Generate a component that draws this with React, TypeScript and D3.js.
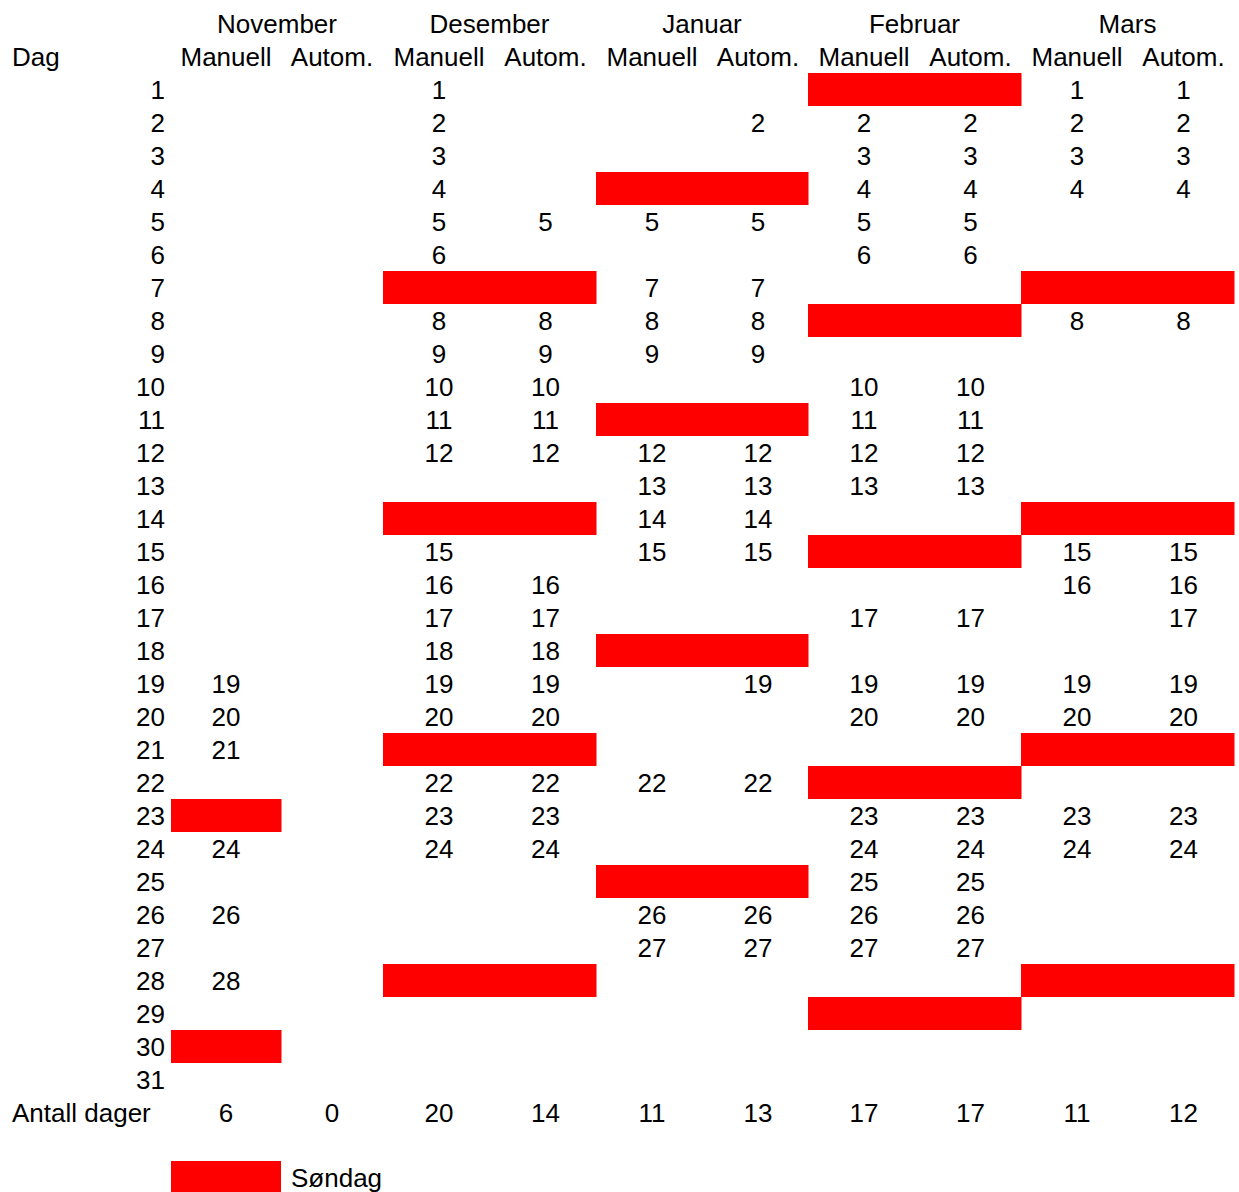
import React from "react";
import * as d3 from "d3";

// Months and registration methods
const months = ["November", "Desember", "Januar", "Februar", "Mars"];
const methods = ["Manuell", "Autom."];

// Days with registrations, per month and method
const novManuell = [19, 20, 21, 24, 26, 28];
const novAutom: number[] = [];
const desManuell = [1, 2, 3, 4, 5, 6, 8, 9, 10, 11, 12, 15, 16, 17, 18, 19, 20, 22, 23, 24];
const desAutom = [5, 8, 9, 10, 11, 12, 16, 17, 18, 19, 20, 22, 23, 24];
const janManuell = [5, 7, 8, 9, 12, 13, 14, 15, 22, 26, 27];
const janAutom = [2, 5, 7, 8, 9, 12, 13, 14, 15, 19, 22, 26, 27];
const febManuell = [2, 3, 4, 5, 6, 10, 11, 12, 13, 17, 19, 20, 23, 24, 25, 26, 27];
const febAutom = [2, 3, 4, 5, 6, 10, 11, 12, 13, 17, 19, 20, 23, 24, 25, 26, 27];
const marManuell = [1, 2, 3, 4, 8, 15, 16, 19, 20, 23, 24];
const marAutom = [1, 2, 3, 4, 8, 15, 16, 17, 19, 20, 23, 24];

// Sundays shaded in each column
const novManuellSun = [23, 30];
const novAutomSun: number[] = [];
const desSun = [7, 14, 21, 28];
const janSun = [4, 11, 18, 25];
const febSun = [1, 8, 15, 22, 29];
const marSun = [7, 14, 21, 28];

const days = d3.range(1, 32);

const columns = [
  { values: novManuell, sundays: novManuellSun },
  { values: novAutom, sundays: novAutomSun },
  { values: desManuell, sundays: desSun },
  { values: desAutom, sundays: desSun },
  { values: janManuell, sundays: janSun },
  { values: janAutom, sundays: janSun },
  { values: febManuell, sundays: febSun },
  { values: febAutom, sundays: febSun },
  { values: marManuell, sundays: marSun },
  { values: marAutom, sundays: marSun },
];

// Layout
const W = 1239;
const H = 1192;
const colEdges = [171, 281, 383, 495, 596, 708, 808, 920, 1021, 1133, 1234];
const ROW = 33;
const FIRST_ROW_TOP = 73;
const FONT = "'Liberation Sans', Arial, sans-serif";
const FS = 26;
const RED = "#ff0000";

// Row index (0 = first day row) → top of the row
const rowTop = d3.scaleLinear().domain([0, 1]).range([FIRST_ROW_TOP, FIRST_ROW_TOP + ROW]);
const dayTop = (d: number) => rowTop(d - 1);
const baseline = (top: number) => top + 26;

const colLeft = (i: number) => colEdges[i];
const colRight = (i: number) => colEdges[i + 1];
const colMid = (i: number) => (colEdges[i] + colEdges[i + 1]) / 2;

export default function App() {
  const textProps = { fontFamily: FONT, fontSize: FS, fill: "#000" };
  const headerTop = rowTop(-2);
  const subTop = rowTop(-1);
  const totalTop = rowTop(31);
  const legendTop = rowTop(33) - 1;

  return (
    <svg
      width={W}
      height={H}
      style={{ position: "absolute", left: 0, top: 0, background: "#fff" }}
    >
      <rect x={0} y={0} width={W} height={H} fill="#fff" />

      {/* Sunday shading */}
      {columns.map((c, ci) =>
        c.sundays.map((d) => (
          <rect
            key={`s-${ci}-${d}`}
            x={colLeft(ci)}
            y={dayTop(d)}
            width={colRight(ci) - colLeft(ci) + 0.5}
            height={ROW}
            fill={RED}
          />
        ))
      )}

      {/* Month headers */}
      {months.map((m, mi) => (
        <text
          key={m}
          x={(colLeft(mi * 2) + colRight(mi * 2 + 1)) / 2}
          y={baseline(headerTop)}
          textAnchor="middle"
          {...textProps}
        >
          {m}
        </text>
      ))}

      {/* Method headers */}
      <text x={12} y={baseline(subTop)} {...textProps}>
        Dag
      </text>
      {columns.map((_, ci) => (
        <text
          key={`h-${ci}`}
          x={colMid(ci)}
          y={baseline(subTop)}
          textAnchor="middle"
          {...textProps}
        >
          {methods[ci % 2]}
        </text>
      ))}

      {/* Day numbers */}
      {days.map((d) => (
        <text key={`d-${d}`} x={165} y={baseline(dayTop(d))} textAnchor="end" {...textProps}>
          {d}
        </text>
      ))}

      {/* Registered days */}
      {columns.map((c, ci) =>
        c.values.map((d) => (
          <text
            key={`v-${ci}-${d}`}
            x={colMid(ci)}
            y={baseline(dayTop(d))}
            textAnchor="middle"
            {...textProps}
          >
            {d}
          </text>
        ))
      )}

      {/* Totals */}
      <text x={12} y={baseline(totalTop)} {...textProps}>
        Antall dager
      </text>
      {columns.map((c, ci) => (
        <text
          key={`t-${ci}`}
          x={colMid(ci)}
          y={baseline(totalTop)}
          textAnchor="middle"
          {...textProps}
        >
          {c.values.length}
        </text>
      ))}

      {/* Legend */}
      <rect x={colLeft(0)} y={legendTop} width={colRight(0) - colLeft(0)} height={ROW} fill={RED} />
      <text x={291} y={baseline(legendTop)} {...textProps}>
        Søndag
      </text>
    </svg>
  );
}
